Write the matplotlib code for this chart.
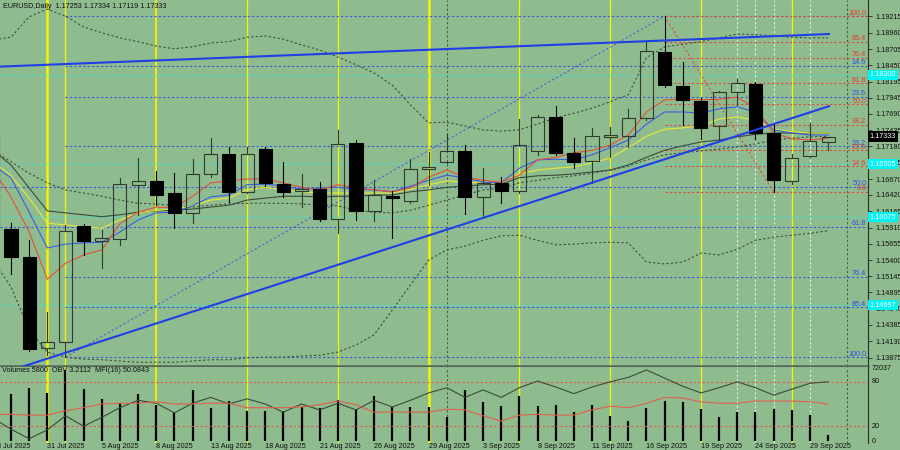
import numpy as np
import pandas as pd
import matplotlib
matplotlib.use("Agg")
import matplotlib.pyplot as plt
import matplotlib.transforms as mtrans
from matplotlib.patches import Rectangle

plt.rcParams["font.family"] = ["Liberation Sans", "DejaVu Sans"]

BG = "#8fbc8f"
FS = 5.2

# ---- data (daily EURUSD, 28 Jul .. 30 Sep 2025) ----
dates = pd.bdate_range("2025-07-28", "2025-09-30")
date_labels = [d.strftime("%-d %b %Y") for d in dates]

opens = [1.1741, 1.15887, 1.15449, 1.14024, 1.14118, 1.15934, 1.15699, 1.15731, 1.16576, 1.16639,
         1.16451, 1.16138, 1.16749, 1.17062, 1.16467, 1.1714, 1.16592, 1.16482, 1.16514, 1.16044,
         1.17234, 1.16169, 1.16404, 1.16326, 1.16827, 1.16937, 1.17109, 1.16388, 1.16608, 1.16482,
         1.17109, 1.17641, 1.17077, 1.16952, 1.17328, 1.17344, 1.17626, 1.18659, 1.18127, 1.17892,
         1.175, 1.18033, 1.18158, 1.17391, 1.16639, 1.1703, 1.17253]
highs = [1.1771, 1.15981, 1.15715, 1.14588, 1.1595, 1.15966, 1.15872, 1.16686, 1.16999, 1.16796,
         1.16764, 1.16983, 1.17312, 1.17171, 1.17171, 1.17171, 1.16937, 1.16749, 1.16623, 1.17438,
         1.17281, 1.16655, 1.16482, 1.16983, 1.17093, 1.17375, 1.17203, 1.16843, 1.16702, 1.1761,
         1.17673, 1.17813, 1.17312, 1.17469, 1.17485, 1.17766, 1.18816, 1.1922, 1.18502, 1.17939,
         1.18048, 1.18236, 1.18189, 1.17547, 1.17062, 1.17547, 1.17334]
lows = [1.1576, 1.15183, 1.13977, 1.13914, 1.13883, 1.1548, 1.15277, 1.15637, 1.16107, 1.16263,
        1.15903, 1.15981, 1.16702, 1.1631, 1.16451, 1.16561, 1.16388, 1.16232, 1.16013, 1.15825,
        1.16028, 1.16013, 1.15746, 1.16294, 1.16576, 1.16921, 1.16122, 1.16075, 1.16294, 1.16451,
        1.17046, 1.17046, 1.16843, 1.16608, 1.17015, 1.17171, 1.17594, 1.18111, 1.17516, 1.17297,
        1.17281, 1.17829, 1.17297, 1.16467, 1.16592, 1.17015, 1.17119]
closes = [1.1588, 1.15449, 1.14008, 1.14118, 1.15856, 1.15699, 1.15746, 1.16592, 1.16639, 1.1642,
          1.16138, 1.16749, 1.17062, 1.16467, 1.17062, 1.16608, 1.16467, 1.16514, 1.16044, 1.17218,
          1.16169, 1.1642, 1.16373, 1.16827, 1.16858, 1.17109, 1.16388, 1.16608, 1.16482, 1.17203,
          1.17641, 1.17077, 1.16937, 1.17344, 1.17359, 1.17626, 1.18675, 1.18142, 1.17907, 1.17469,
          1.18033, 1.18174, 1.17391, 1.16655, 1.16999, 1.17265, 1.17333]

ma_red = [1.1681, 1.1639, 1.1584, 1.1510, 1.1535, 1.1548, 1.1556, 1.1597, 1.1615, 1.1623,
          1.1622, 1.1640, 1.1661, 1.1664, 1.1667, 1.1667, 1.1661, 1.1654, 1.1650, 1.1658,
          1.1653, 1.1650, 1.1647, 1.1653, 1.1670, 1.1681, 1.1670, 1.1665, 1.1662, 1.1673,
          1.1697, 1.1701, 1.1708, 1.1712, 1.1720, 1.1736, 1.1772, 1.1791, 1.1792, 1.1791,
          1.1792, 1.1795, 1.1778, 1.1739, 1.1730, 1.1728, 1.1731]
ma_blue = [1.1689, 1.1669, 1.1615, 1.1559, 1.1565, 1.1567, 1.1568, 1.1584, 1.1603, 1.1614,
           1.1615, 1.1625, 1.1639, 1.1642, 1.1658, 1.1659, 1.1656, 1.1651, 1.1653, 1.1654,
           1.1651, 1.1650, 1.1647, 1.1656, 1.1665, 1.1673, 1.1669, 1.1662, 1.1661, 1.1684,
           1.1697, 1.1698, 1.1697, 1.1705, 1.1716, 1.1728, 1.1753, 1.1772, 1.1772, 1.1770,
           1.1777, 1.1780, 1.1772, 1.1744, 1.1739, 1.1736, 1.1736]
ma_yellow = [1.1694, 1.1672, 1.1637, 1.1598, 1.1595, 1.1592, 1.1590, 1.1603, 1.1614, 1.1618,
             1.1620, 1.1625, 1.1634, 1.1637, 1.1650, 1.1654, 1.1650, 1.1647, 1.1645, 1.1645,
             1.1645, 1.1645, 1.1645, 1.1651, 1.1658, 1.1664, 1.1662, 1.1661, 1.1661, 1.1675,
             1.1681, 1.1684, 1.1686, 1.1692, 1.1700, 1.1716, 1.1734, 1.1745, 1.1747, 1.1750,
             1.1761, 1.1764, 1.1759, 1.1745, 1.1741, 1.1739, 1.1739]
ma_dark = [1.1712, 1.1689, 1.1653, 1.1617, 1.1614, 1.1611, 1.1608, 1.1611, 1.1615, 1.1617,
           1.1618, 1.1620, 1.1623, 1.1626, 1.1634, 1.1637, 1.1640, 1.1640, 1.1639, 1.1640,
           1.1640, 1.1642, 1.1642, 1.1647, 1.1650, 1.1654, 1.1656, 1.1658, 1.1659, 1.1669,
           1.1672, 1.1673, 1.1675, 1.1678, 1.1681, 1.1689, 1.1701, 1.1712, 1.1719, 1.1725,
           1.1728, 1.1733, 1.1737, 1.1739, 1.1739, 1.1739, 1.1739]
bb_mid = [1.1712, 1.1694, 1.1676, 1.1661, 1.1650, 1.1645, 1.1640, 1.1634, 1.1629, 1.1628,
          1.1625, 1.1623, 1.1626, 1.1628, 1.1629, 1.1629, 1.1629, 1.1628, 1.1626, 1.1625,
          1.1618, 1.1615, 1.1614, 1.1618, 1.1626, 1.1634, 1.1642, 1.1650, 1.1653, 1.1661,
          1.1665, 1.1669, 1.1672, 1.1676, 1.1681, 1.1687, 1.1697, 1.1705, 1.1708, 1.1711,
          1.1714, 1.1717, 1.1722, 1.1728, 1.1731, 1.1733, 1.1734]
bb_up = [1.1885, 1.1889, 1.1921, 1.1933, 1.1922, 1.1905, 1.1896, 1.1888, 1.1882, 1.1875,
         1.1871, 1.1874, 1.1880, 1.1882, 1.1889, 1.1891, 1.1886, 1.1877, 1.1869, 1.1858,
         1.1846, 1.1833, 1.1814, 1.1783, 1.1755, 1.1756, 1.1750, 1.1744, 1.1742, 1.1744,
         1.1753, 1.1763, 1.1770, 1.1778, 1.1788, 1.1799, 1.1857, 1.1874, 1.1878, 1.1882,
         1.1888, 1.1894, 1.1893, 1.1891, 1.1889, 1.1888, 1.1888]
bb_low = [1.1540, 1.1498, 1.1431, 1.1396, 1.1388, 1.1385, 1.1384, 1.1382, 1.1380, 1.1380,
          1.1380, 1.1382, 1.1384, 1.1384, 1.1387, 1.1388, 1.1388, 1.1390, 1.1391, 1.1396,
          1.1407, 1.1423, 1.1462, 1.1501, 1.1540, 1.1556, 1.1562, 1.1571, 1.1578, 1.1579,
          1.1571, 1.1564, 1.1565, 1.1567, 1.1568, 1.1567, 1.1537, 1.1534, 1.1537, 1.1551,
          1.1548, 1.1557, 1.1571, 1.1576, 1.1579, 1.1582, 1.1586]

volumes = [42000, 45750, 51600, 46730, 69120, 50620, 40890, 36990, 45750, 35050,
           28230, 49650, 32130, 38940, 29200, 29200, 29200, 33100, 32130, 39910,
           31150, 43810, 33100, 33100, 33100, 23360, 49650, 37970, 34070, 43810,
           34070, 35050, 28230, 35050, 24340, 19470, 32130, 38940, 37970, 31150,
           23360, 28230, 28230, 31150, 30180, 25310, 5800]
obv_line = [31, 16, 3, 15, 34, 20, 32, 45, 55, 51, 38, 51, 59, 50, 57, 50, 39, 50, 42, 51,
            42, 55, 46, 55, 65, 72, 59, 69, 59, 72, 81, 73, 64, 73, 80, 86, 96, 85, 74, 65,
            72, 80, 72, 62, 70, 78, 80]
mfi = [36, 36, 35, 35, 41, 45, 50, 51, 51, 53, 50, 50, 51, 51, 45, 45, 45, 46, 49, 54,
       49, 39, 39, 39, 39, 43, 42, 34, 27, 35, 36, 35, 35, 42, 47, 45, 51, 59, 58, 53,
       51, 51, 54, 54, 54, 53, 50]

price_ticks = [1.19215, 1.18960, 1.18705, 1.18450, 1.18195, 1.17945, 1.17690, 1.17435,
               1.17180, 1.16925, 1.16670, 1.16420, 1.16165, 1.15910, 1.15655, 1.15400,
               1.15145, 1.14895, 1.14640, 1.14385, 1.14130, 1.13875]

# fibonacci tools and drawn objects
fib_levels_blue = [0.0, 14.6, 23.6, 38.2, 50.0, 61.8, 76.4, 85.4, 100.0]
fib_blue_hi, fib_blue_lo, fib_blue_start = 1.1922, 1.1388, 4
fib_levels_red = [100.0, 85.4, 76.4, 61.8, 50.0, 38.2, 23.6, 14.6, 0.0]
fib_red_hi, fib_red_lo, fib_red_start, fib_red_end = 1.1922, 1.16467, 37, 43
blue_full_width = [50.0, 61.8]
cyan_levels = [1.18300, 1.16905, 1.16075, 1.14697]
trend_lines = [((0.39, 1.1843), (46.05, 1.1894)), ((1.5, 1.1372), (46.05, 1.1781))]
yellow_lines = {3: 1.8, 4: 0.9, 9: 1.3, 14: 0.9, 19: 0.9, 24: 1.8, 29: 0.9, 34: 0.9, 39: 0.9, 44: 0.9}
white_lines = [41, 42, 43, 45]
gray_lines = [25, 47.05]

x = np.arange(len(dates))
XL = (0.394, 48.2)

fig = plt.figure(figsize=(9, 4.5), dpi=100, facecolor=BG)
ax = fig.add_axes([0, 84 / 450, 868 / 900, 366 / 450])
ax.set_facecolor(BG)
ax.set_xlim(*XL)
ax.set_ylim(1.13742, 1.19473)

dot = (0, (2, 2))
for i, w in yellow_lines.items():
    ax.axvline(i, color="#f4f400", lw=w, zorder=1)
for i in white_lines:
    ax.axvline(i, color="#e6efe6", lw=0.8, ls=dot, zorder=1)
for i in gray_lines:
    ax.axvline(i, color="#4c5c4c", lw=0.8, ls=dot, zorder=1)

trans = mtrans.blended_transform_factory(ax.transAxes, ax.transData)

# horizontal levels
for lv in cyan_levels:
    ax.axhline(lv, color="#3fe0d8", lw=0.8, ls=dot, zorder=1.5)
for lv in fib_levels_blue:
    p = fib_blue_hi - lv / 100 * (fib_blue_hi - fib_blue_lo)
    x0 = XL[0] if lv in blue_full_width else fib_blue_start
    ax.plot([x0, XL[1]], [p, p], color="#3a58e0", lw=0.8, ls=dot, zorder=2)
    if lv > 0:
        ax.annotate(f"{lv:.1f}", xy=(0.998, p), xycoords=trans, xytext=(0, 3),
                    textcoords="offset pixels", ha="right", va="center",
                    fontsize=FS, color="#2f4ee6", zorder=7)
for lv in fib_levels_red:
    p = fib_red_lo + lv / 100 * (fib_red_hi - fib_red_lo)
    ax.plot([fib_red_start, XL[1]], [p, p], color="#e04a3a", lw=0.8, ls=dot, zorder=2)
    ax.annotate(f"{lv:.1f}", xy=(0.998, p), xycoords=trans, xytext=(0, 3),
                textcoords="offset pixels", ha="right", va="center",
                fontsize=FS, color="#e83a2a", zorder=7)

ax.plot([fib_blue_start, fib_red_start], [fib_blue_lo, fib_blue_hi],
        color="#4a64d0", lw=0.8, ls=dot, zorder=2)
ax.plot([fib_red_start, fib_red_end], [fib_red_hi, fib_red_lo],
        color="#e04a3a", lw=0.8, ls=dot, zorder=2)

# bands and moving averages
for band in (bb_up, bb_low, bb_mid):
    ax.plot(x, band, color="#3e4e3e", lw=0.8, ls=dot, zorder=2.5)
ax.plot(x, ma_dark, color="#3c4a3c", lw=0.8, zorder=3)
ax.plot(x, ma_yellow, color="#e8e838", lw=0.8, zorder=3)
ax.plot(x, ma_blue, color="#3a5ee0", lw=0.8, zorder=3)
ax.plot(x, ma_red, color="#e4503a", lw=0.8, zorder=3)

# candles
for i, (o, h, l, c) in enumerate(zip(opens, highs, lows, closes)):
    top, bot = max(o, c), min(o, c)
    bear = c < o
    col = "black" if bear else "#2e3a2e"
    ax.plot([i, i], [top, h], color=col, lw=0.8, zorder=4)
    ax.plot([i, i], [l, bot], color=col, lw=0.8, zorder=4)
    ax.add_patch(Rectangle((i - 0.36, bot), 0.72, max(top - bot, 0.00004),
                           facecolor="black" if bear else "none",
                           edgecolor=col, lw=0.8, zorder=5))

for (x0, y0), (x1, y1) in trend_lines:
    ax.plot([x0, x1], [y0, y1], color="#1f3fe8", lw=1.5, zorder=6)

# axes styling
ax.set_xticks([])
ax.yaxis.tick_right()
ax.set_yticks(price_ticks)
ax.set_yticklabels([f"{t:.5f}" for t in price_ticks])
ax.tick_params(axis="y", labelsize=FS, length=3, width=0.6, color="#2a2a2a",
               pad=2, labelcolor="#101010")
for s in ("top", "left"):
    ax.spines[s].set_visible(False)
ax.spines["right"].set_color("#2a2a2a")
ax.spines["right"].set_linewidth(0.8)
ax.spines["bottom"].set_color("#566656")
ax.spines["bottom"].set_linewidth(1.8)

for lv in cyan_levels:
    ax.text(1.0 + 1.5 / 868, lv, f"{lv:.5f}", transform=trans, ha="left", va="center",
            fontsize=FS, color="white", clip_on=False, zorder=8,
            bbox=dict(boxstyle="square,pad=0.25", fc="#00f4f4", ec="none"))
ax.text(1.0 + 1.5 / 868, closes[-1], f"{closes[-1]:.5f}", transform=trans, ha="left",
        va="center", fontsize=FS, color="white", clip_on=False, zorder=8,
        bbox=dict(boxstyle="square,pad=0.25", fc="black", ec="none"))

ax.text(0.003, 0.993, f"EURUSD,Daily  {opens[-1]:.5f} {highs[-1]:.5f} {lows[-1]:.5f} {closes[-1]:.5f}",
        transform=ax.transAxes, ha="left", va="top", fontsize=FS, color="#101010")

# ---- volume / OBV / MFI sub-window ----
axb = fig.add_axes([0, 7 / 450, 868 / 900, 76 / 450])
axb.set_facecolor(BG)
axb.set_xlim(*XL)
axb.set_ylim(-1945, 72037)
for i, w in yellow_lines.items():
    axb.axvline(i, color="#f4f400", lw=w, zorder=1)
for i in white_lines:
    axb.axvline(i, color="#e6efe6", lw=0.8, ls=dot, zorder=1)
for i in gray_lines:
    axb.axvline(i, color="#4c5c4c", lw=0.8, ls=dot, zorder=1)
axb.vlines(x, 0, volumes, color="black", lw=1.6, zorder=2)

axv = fig.add_axes([0, 7 / 450, 868 / 900, 76 / 450], sharex=axb)
axv.patch.set_visible(False)
axv.set_ylim(-2.7, 100)
axv.axhline(80, color="#e05a4a", lw=0.8, ls=dot)
axv.axhline(20, color="#e05a4a", lw=0.8, ls=dot)
axv.plot(x, obv_line, color="#3c4a3c", lw=0.8, zorder=3)
axv.plot(x, mfi, color="#e0604a", lw=0.8, zorder=3)

for a in (axb, axv):
    a.set_xticks([])
    a.set_yticks([])
    for s in ("top", "left", "bottom"):
        a.spines[s].set_visible(False)
axv.spines["right"].set_visible(False)
axb.spines["right"].set_color("#2a2a2a")
axb.spines["right"].set_linewidth(0.8)

axv.text(0.002, 0.96, f"Volumes {volumes[-1]}  OBV 3.2112  MFI(16) 50.0843",
         transform=axv.transAxes, ha="left", va="center", fontsize=FS, color="#101010")
vtrans = mtrans.blended_transform_factory(axv.transAxes, axv.transData)
for val, txt in ((97.3, "72037"), (80, "80"), (20, "20"), (0, "0")):
    axv.text(1.0 + 4 / 868, val, txt, transform=vtrans, ha="left", va="center",
             fontsize=FS, color="#101010", clip_on=False)

dtrans = mtrans.blended_transform_factory(axv.transData, axv.transAxes)
for i in range(0, len(dates), 3):
    axv.annotate(date_labels[i], xy=(i, 0), xycoords=dtrans, xytext=(0, -4),
                 textcoords="offset pixels", ha="left", va="center",
                 fontsize=FS, color="#101010", annotation_clip=False)

fig.savefig("out.png", dpi=100, facecolor=BG)
